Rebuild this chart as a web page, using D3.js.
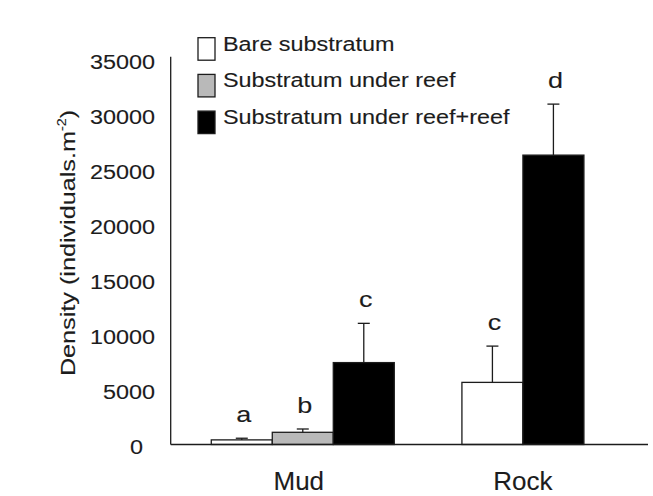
<!DOCTYPE html>
<html>
<head>
<meta charset="utf-8">
<script src="https://cdn.jsdelivr.net/npm/d3@7"></script>
<style>
  html, body { margin: 0; padding: 0; background: #fff; }
  svg { display: block; font-family: "Liberation Sans", Arial, sans-serif; }
  svg text { stroke: #1c1c1c; stroke-width: 0.12px; }
</style>
</head>
<body>
<svg id="chart" width="653" height="496"></svg>
<script>
// Substrate types on the x axis
const groups = ["Mud", "Rock"];
// Treatments (legend entries)
const series = ["Bare substratum", "Substratum under reef", "Substratum under reef+reef"];
// Mean density per treatment (individuals per m²); null = not sampled
const mudMeans = [420, 1110, 7450];
const rockMeans = [5650, null, 26320];
// Standard errors drawn as upward whiskers
const mudErrors = [150, 300, 3570];
const rockErrors = [3300, null, 4640];
// Significance groupings written above each bar
const mudLetters = ["a", "b", "c"];
const rockLetters = ["c", null, "d"];
// Y axis tick values
const yTicks = [0, 5000, 10000, 15000, 20000, 25000, 30000, 35000];

const fills = ["#ffffff", "#b9b9b9", "#000000"];
const ink = "#1c1c1c";
const wide = "scale(1.2,1)";

const svg = d3.select("#chart");

const axisX = 170.7, baseY = 444.5;
const y = d3.scaleLinear().domain([0, 35000]).range([baseY, 59.7]);
const x0 = d3.scalePoint().domain(groups).range([axisX, 655]).padding(0.6);
const barW = 61;

const perGroup = {
  Mud:  { means: mudMeans,  errors: mudErrors,  letters: mudLetters },
  Rock: { means: rockMeans, errors: rockErrors, letters: rockLetters }
};

const bars = [];
groups.forEach(g => {
  const p = perGroup[g];
  const present = series.filter((s, i) => p.means[i] != null);
  const inner = d3.scaleBand().domain(present)
    .range([-present.length * barW / 2, present.length * barW / 2]).paddingInner(0);
  present.forEach(s => {
    const i = series.indexOf(s);
    bars.push({ group: g, series: s, idx: i, mean: p.means[i], err: p.errors[i],
                letter: p.letters[i], x: x0(g) + inner(s), w: inner.bandwidth() });
  });
});

// Bars
svg.append("g").selectAll("rect").data(bars).join("rect")
  .attr("x", d => d.x)
  .attr("y", d => y(d.mean))
  .attr("width", d => d.w)
  .attr("height", d => y(0) - y(d.mean))
  .attr("fill", d => fills[d.idx])
  .attr("stroke", ink)
  .attr("stroke-width", 1.3);

// Error whiskers
const eb = svg.append("g").attr("stroke", ink).attr("stroke-width", 1.3);
eb.selectAll("line.v").data(bars).join("line").attr("class", "v")
  .attr("x1", d => d.x + d.w / 2).attr("x2", d => d.x + d.w / 2)
  .attr("y1", d => y(d.mean)).attr("y2", d => y(d.mean + d.err));
eb.selectAll("line.c").data(bars).join("line").attr("class", "c")
  .attr("x1", d => d.x + d.w / 2 - 6).attr("x2", d => d.x + d.w / 2 + 6)
  .attr("y1", d => y(d.mean + d.err)).attr("y2", d => y(d.mean + d.err));

// Significance letters
svg.append("g").selectAll("text").data(bars).join("text")
  .attr("transform", d => `translate(${d.x + d.w / 2 + 2},${y(d.mean + d.err) - 16}) ${wide}`)
  .attr("text-anchor", "middle")
  .attr("font-size", 22.5)
  .attr("fill", ink)
  .text(d => d.letter);

// Y axis
const yAxis = svg.append("g")
  .attr("transform", `translate(${axisX},0)`)
  .call(d3.axisLeft(y).tickValues(yTicks).tickSize(0).tickFormat(d3.format("d")));
yAxis.select(".domain").remove();
yAxis.selectAll("text")
  .attr("font-family", "Liberation Sans, Arial, sans-serif")
  .attr("font-size", 19.5)
  .attr("fill", ink)
  .attr("transform", wide)
  .attr("x", d => d === 0 ? -23 : -13)
  .attr("dy", "0.45em");

svg.append("line")
  .attr("x1", axisX).attr("x2", axisX)
  .attr("y1", y(35000) - 3).attr("y2", baseY)
  .attr("stroke", ink).attr("stroke-width", 1.3);
svg.append("line")
  .attr("x1", axisX).attr("x2", 648)
  .attr("y1", baseY).attr("y2", baseY)
  .attr("stroke", ink).attr("stroke-width", 1.3);

// Category labels
svg.append("g").selectAll("text").data(groups).join("text")
  .attr("x", d => x0(d) - (d === "Mud" ? 4 : 0))
  .attr("y", 489.5)
  .attr("text-anchor", "middle")
  .attr("font-size", 26)
  .attr("fill", ink)
  .text(d => d);

// Y axis title
const title = svg.append("text")
  .attr("transform", `translate(75,243) rotate(-90) ${wide}`)
  .attr("text-anchor", "middle")
  .attr("font-size", 21)
  .attr("fill", ink);
title.append("tspan").text("Density (individuals.m");
title.append("tspan").attr("font-size", 12).attr("dy", -9).text("-2");
title.append("tspan").attr("dy", 9).text(")");

// Legend
const legend = svg.append("g").selectAll("g").data(series).join("g")
  .attr("transform", (d, i) => `translate(198,${50.7 + i * 36.7})`);
legend.append("rect")
  .attr("x", 0).attr("y", -13).attr("width", 17).attr("height", 22.5)
  .attr("fill", (d, i) => fills[i])
  .attr("stroke", ink).attr("stroke-width", 1.3);
legend.append("text")
  .attr("transform", `translate(25,0) ${wide}`)
  .attr("font-size", 19.5)
  .attr("fill", ink)
  .text(d => d);
</script>
</body>
</html>
